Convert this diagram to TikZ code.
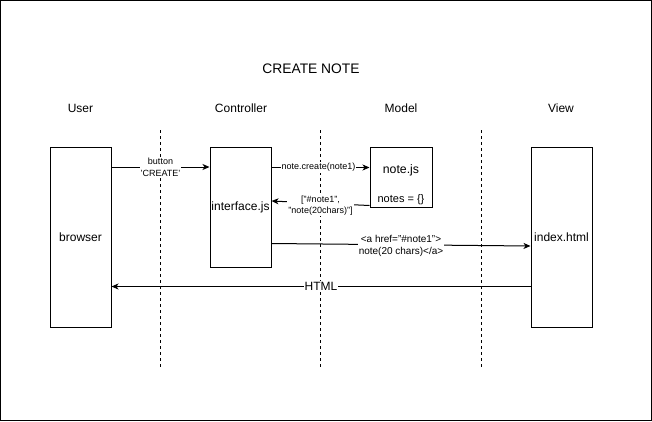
\documentclass[tikz,border=0pt]{standalone}
\usepackage{fontspec}
\setmainfont[Ligatures=NoCommon]{Liberation Sans}
\usetikzlibrary{arrows.meta}
\newcommand{\sq}{\symbol{39}}
\begin{document}
\begin{tikzpicture}[x=1pt,y=-1pt,
  box/.style={draw,line width=1pt,minimum width=61pt,inner sep=0pt,font=\fontsize{12}{14}\selectfont},
  lifeline/.style={line width=0.8pt,dash pattern=on 3pt off 3pt},
  msg/.style={line width=1pt,-{Stealth[length=7pt,width=6pt,inset=2pt]}},
  lbl/.style={fill=white,inner sep=1pt,align=center},
  small/.style={font=\fontsize{9}{11}\selectfont},
  head/.style={font=\fontsize{12}{14}\selectfont}]
\useasboundingbox (0,0) rectangle (652,421);
\draw[line width=1pt] (0.5,0.5) rectangle (651.5,420.5);
\node[font=\fontsize{13.8}{16}\selectfont] (title) at (311,69) {CREATE NOTE};
\node[head] (huser) at (80.5,108) {User};
\node[head] (hctrl) at (241,108) {Controller};
\node[head] (hmodel) at (401,108) {Model};
\node[head] (hview) at (561,108) {View};
% lifelines
\coordinate (l1t) at (160.5,130); \coordinate (l1b) at (160.5,367);
\coordinate (l2t) at (320.5,130); \coordinate (l2b) at (320.5,367);
\coordinate (l3t) at (481,130);   \coordinate (l3b) at (481,367);
\draw[lifeline] (l1t) -- (l1b);
\draw[lifeline] (l2t) -- (l2b);
\draw[lifeline] (l3t) -- (l3b);
% boxes
\node[box,fill=white,minimum height=180pt] (browser) at (80.5,237) {browser};
\node[box,fill=white,minimum height=120pt] (iface) at (240.5,207) {interface.js};
\node[box,fill=white,minimum width=62pt,minimum height=60pt] (notejs) at (401,177) {};
\node[font=\fontsize{12.3}{14}\selectfont] (notejst) at (401,170) {note.js};
\node[font=\fontsize{11}{13}\selectfont] (notes) at (401,200) {notes = \{\}};
\node[box,fill=white,minimum height=180pt] (index) at (561.5,237) {index.html};
% messages
\draw[msg] ([yshift=-20.5pt]browser.north east) -- node[lbl,font=\fontsize{9}{12}\selectfont] (m1) {button\\\sq CREATE\sq} ([yshift=-20.5pt]iface.north west);
\draw[msg] ([yshift=-21pt]iface.north east) -- node[lbl,small,xshift=-2pt] (m2) {note.create(note1)} ([yshift=-21pt]notejs.north west);
\draw[msg] ([yshift=-59pt]notejs.north west) -- node[lbl,small,yshift=-2pt] (m3) {["\#note1",\\"note(20chars)"]} ([yshift=-54.5pt]iface.north east);
\draw[msg] ([yshift=-97pt]iface.north east) -- node[lbl,font=\fontsize{10}{12}\selectfont,yshift=-1.5pt] (m4) {<a href="\#note1">\\note(20 chars)</a>} ([yshift=-99.5pt]index.north west);
\draw[msg] ([yshift=-140pt]index.north west) -- node[lbl,font=\fontsize{12}{14}\selectfont] (m5) {HTML} ([yshift=-140pt]browser.north east);
\end{tikzpicture}
\end{document}
